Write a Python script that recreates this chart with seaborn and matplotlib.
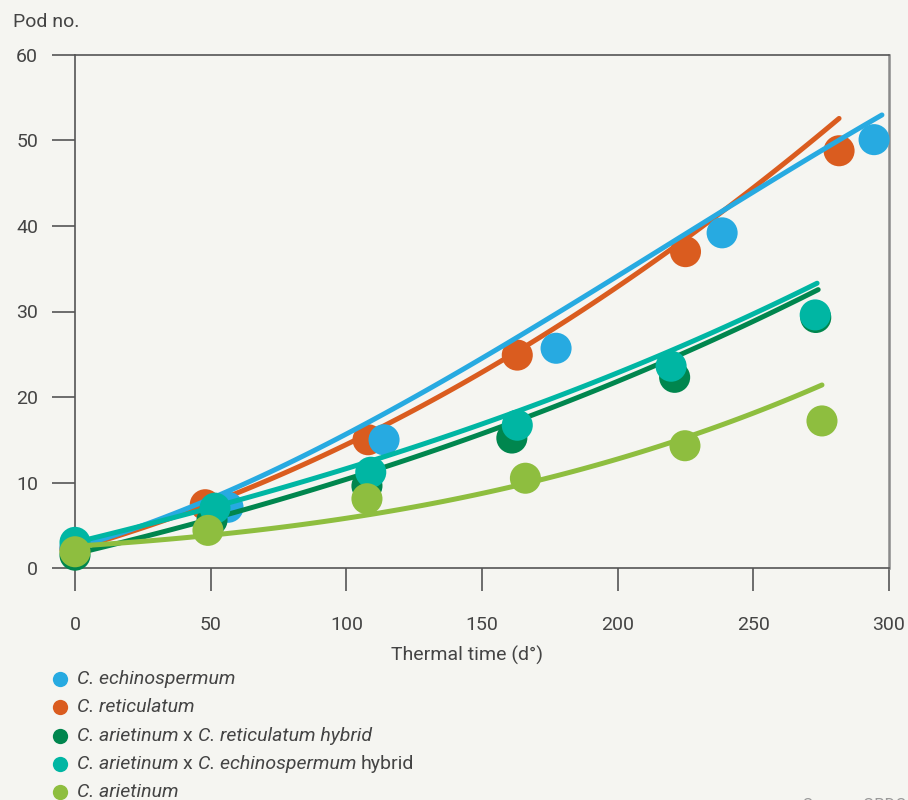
import matplotlib
matplotlib.use('Agg')
from matplotlib import pyplot as plt
from matplotlib.lines import Line2D
import seaborn as sns

# observed pod numbers (points)
echino_x = [0, 56.4, 113.9, 177.3, 238.5, 294.5]
echino_y = [2.4, 7.1, 15.0, 25.7, 39.2, 50.1]
retic_x = [0, 48, 108, 163, 225, 281.6]
retic_y = [2.2, 7.4, 15.0, 24.9, 37.0, 48.8]
hyb_ret_x = [0, 50.5, 107.6, 161, 221, 273]
hyb_ret_y = [1.5, 5.6, 9.6, 15.2, 22.3, 29.3]
hyb_ech_x = [0, 51.6, 109, 163, 219.7, 272.8]
hyb_ech_y = [3.0, 7.0, 11.2, 16.7, 23.6, 29.6]
ariet_x = [0, 49, 107.6, 166, 224.8, 275.3]
ariet_y = [1.9, 4.4, 8.1, 10.5, 14.3, 17.2]

# fitted curves
echino_fit_x = [0, 25, 50, 75, 100, 150, 200, 250, 297.4]
echino_fit_y = [2.6, 4.9, 7.7, 11.6, 16.0, 24.8, 34.0, 43.8, 53.1]
retic_fit_x = [0, 25, 50, 75, 100, 150, 200, 225, 250, 281.6]
retic_fit_y = [2.4, 4.6, 7.3, 10.8, 14.6, 23.2, 32.6, 38.4, 44.6, 52.6]
hyb_ret_fit_x = [0, 25, 50, 75, 100, 150, 200, 250, 273.9]
hyb_ret_fit_y = [1.6, 3.7, 5.8, 7.9, 10.2, 16.0, 21.6, 29.0, 32.5]
hyb_ech_fit_x = [0, 25, 50, 75, 100, 150, 200, 250, 273.5]
hyb_ech_fit_y = [3.0, 5.0, 7.0, 9.2, 11.6, 17.1, 22.6, 29.8, 33.3]
ariet_fit_x = [0, 25, 50, 75, 100, 150, 200, 225, 250, 275.3]
ariet_fit_y = [2.6, 3.1, 3.8, 4.7, 5.7, 9.0, 12.8, 15.0, 18.1, 21.5]

c_blue = '#27AAE1'
c_orange = '#DA5C1F'
c_dgreen = '#00864E'
c_teal = '#00B6A3'
c_lgreen = '#8EBE3F'
bg = '#F5F5F1'
txt = '#444444'

sns.set_theme(style='ticks')
plt.rcParams['font.family'] = ['Roboto', 'DejaVu Sans']

fig = plt.figure(figsize=(9.08, 8.0), dpi=100, facecolor=bg)
ax = fig.add_axes([75/908, 1-568/800, (889-75)/908, (568-55)/800])
ax.set_facecolor(bg)

# drawing order: orange, blue, dark green, teal, light green
series = [
    (retic_fit_x, retic_fit_y, retic_x, retic_y, c_orange),
    (echino_fit_x, echino_fit_y, echino_x, echino_y, c_blue),
    (hyb_ret_fit_x, hyb_ret_fit_y, hyb_ret_x, hyb_ret_y, c_dgreen),
    (hyb_ech_fit_x, hyb_ech_fit_y, hyb_ech_x, hyb_ech_y, c_teal),
    (ariet_fit_x, ariet_fit_y, ariet_x, ariet_y, c_lgreen),
]
z = 2
for fx, fy, px, py, col in series:
    sns.regplot(x=fx, y=fy, order=3, ci=None, scatter=False, truncate=True,
                color=col, ax=ax,
                line_kws={'lw': 3.6, 'zorder': z, 'solid_capstyle': 'round'})
    sns.scatterplot(x=px, y=py, color=col, s=500, edgecolor='none', ax=ax,
                    zorder=z + 1, clip_on=False)
    z += 2

ax.set_xlim(0, 300)
ax.set_ylim(0, 60)
ax.set_xticks(range(0, 301, 50))
ax.set_yticks(range(0, 61, 10))
for s in ['left', 'bottom', 'top']:
    ax.spines[s].set_color('#555555')
    ax.spines[s].set_linewidth(1.2)
ax.spines['right'].set_color('#8a8a8a')
ax.spines['right'].set_linewidth(1.8)
ax.tick_params(axis='both', direction='out', length=16.5, width=1.2,
               color='#555555', labelsize=14, labelcolor=txt)
ax.tick_params(axis='x', pad=18)
ax.tick_params(axis='y', pad=10)
ax.set_xlabel('')
ax.set_ylabel('')

fig.text(13/908, 1-22/800, 'Pod no.', fontsize=14, color=txt, va='center', ha='left')
fig.text(467/908, 1-655/800, 'Thermal time (d°)', fontsize=14, color=txt,
         va='center', ha='center')

# legend: mixed italic / upright pieces
legend_rows = [
    [('C. echinospermum', 'italic')],
    [('C. reticulatum', 'italic')],
    [('C. arietinum ', 'italic'), ('x ', 'normal'),
     ('C. reticulatum hybrid', 'italic')],
    [('C. arietinum ', 'italic'), ('x ', 'normal'),
     ('C. echinospermum ', 'italic'), ('hybrid', 'normal')],
    [('C. arietinum', 'italic')],
]
legend_colors = [c_blue, c_orange, c_dgreen, c_teal, c_lgreen]
renderer = fig.canvas.get_renderer()
for i, (parts, col) in enumerate(zip(legend_rows, legend_colors)):
    ypx = 679 + 28.3 * i
    yf = 1 - ypx / 800
    fig.add_artist(Line2D([60/908], [yf], ls='none', marker='o', markersize=11,
                          color=col, markeredgecolor='none',
                          transform=fig.transFigure))
    xpx = 77
    for piece, style in parts:
        t = fig.text(xpx/908, yf, piece, fontsize=14, color=txt, style=style,
                     va='center', ha='left')
        xpx += t.get_window_extent(renderer).width

fig.text(906/908, 1-798/800, 'Source: GRDC', fontsize=12, color='#9a9a9a',
         ha='right', va='top')

fig.savefig('out.png', dpi=100, facecolor=bg)
